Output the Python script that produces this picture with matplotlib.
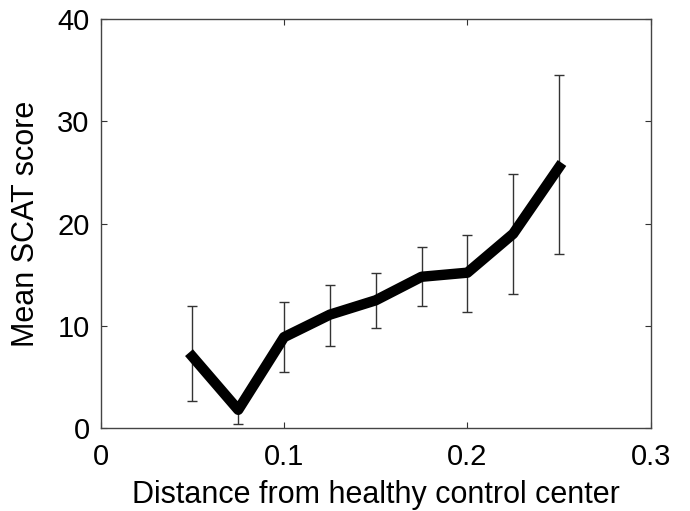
import matplotlib
matplotlib.use("Agg")
import matplotlib.pyplot as plt

# values
distance = [0.05, 0.075, 0.1, 0.125, 0.15, 0.175, 0.2, 0.225, 0.25]
mean_scat = [7.0, 1.8, 8.9, 11.1, 12.5, 14.8, 15.2, 19.0, 25.5]
err_low = [2.7, 0.4, 5.5, 8.0, 9.8, 11.9, 11.4, 13.1, 17.0]
err_high = [11.9, 2.6, 12.3, 14.0, 15.2, 17.7, 18.9, 24.8, 34.5]

plt.rcParams['font.family'] = ['Liberation Sans', 'DejaVu Sans']

lower = [m - lo for m, lo in zip(mean_scat, err_low)]
upper = [hi - m for m, hi in zip(mean_scat, err_high)]

fig = plt.figure(figsize=(6.9, 5.11), dpi=100)
ax = fig.add_axes([0.146, 0.162, 0.797, 0.801])

ax.errorbar(distance, mean_scat, yerr=[lower, upper], fmt='none',
            ecolor='#333333', elinewidth=1.0, capsize=3.5, capthick=1.0, zorder=2)
ax.plot(distance, mean_scat, color='black', linewidth=7.5, zorder=3)

ax.set_xlim(0, 0.3)
ax.set_ylim(0, 40)
ax.set_xticks([0, 0.1, 0.2, 0.3])
ax.set_xticklabels(['0', '0.1', '0.2', '0.3'])
ax.set_yticks([0, 10, 20, 30, 40])

ax.tick_params(direction='in', top=True, right=True, length=4, width=0.8,
               labelsize=21, colors='#333333', labelcolor='black')
ax.tick_params(axis='x', pad=11)
ax.tick_params(axis='y', pad=8)
for sp in ax.spines.values():
    sp.set_color('#444444')
    sp.set_linewidth(1.0)

ax.set_xlabel('Distance from healthy control center', fontsize=22, labelpad=6)
ax.set_ylabel('Mean SCAT score', fontsize=22, labelpad=12)

fig.savefig('out.png', dpi=100)
